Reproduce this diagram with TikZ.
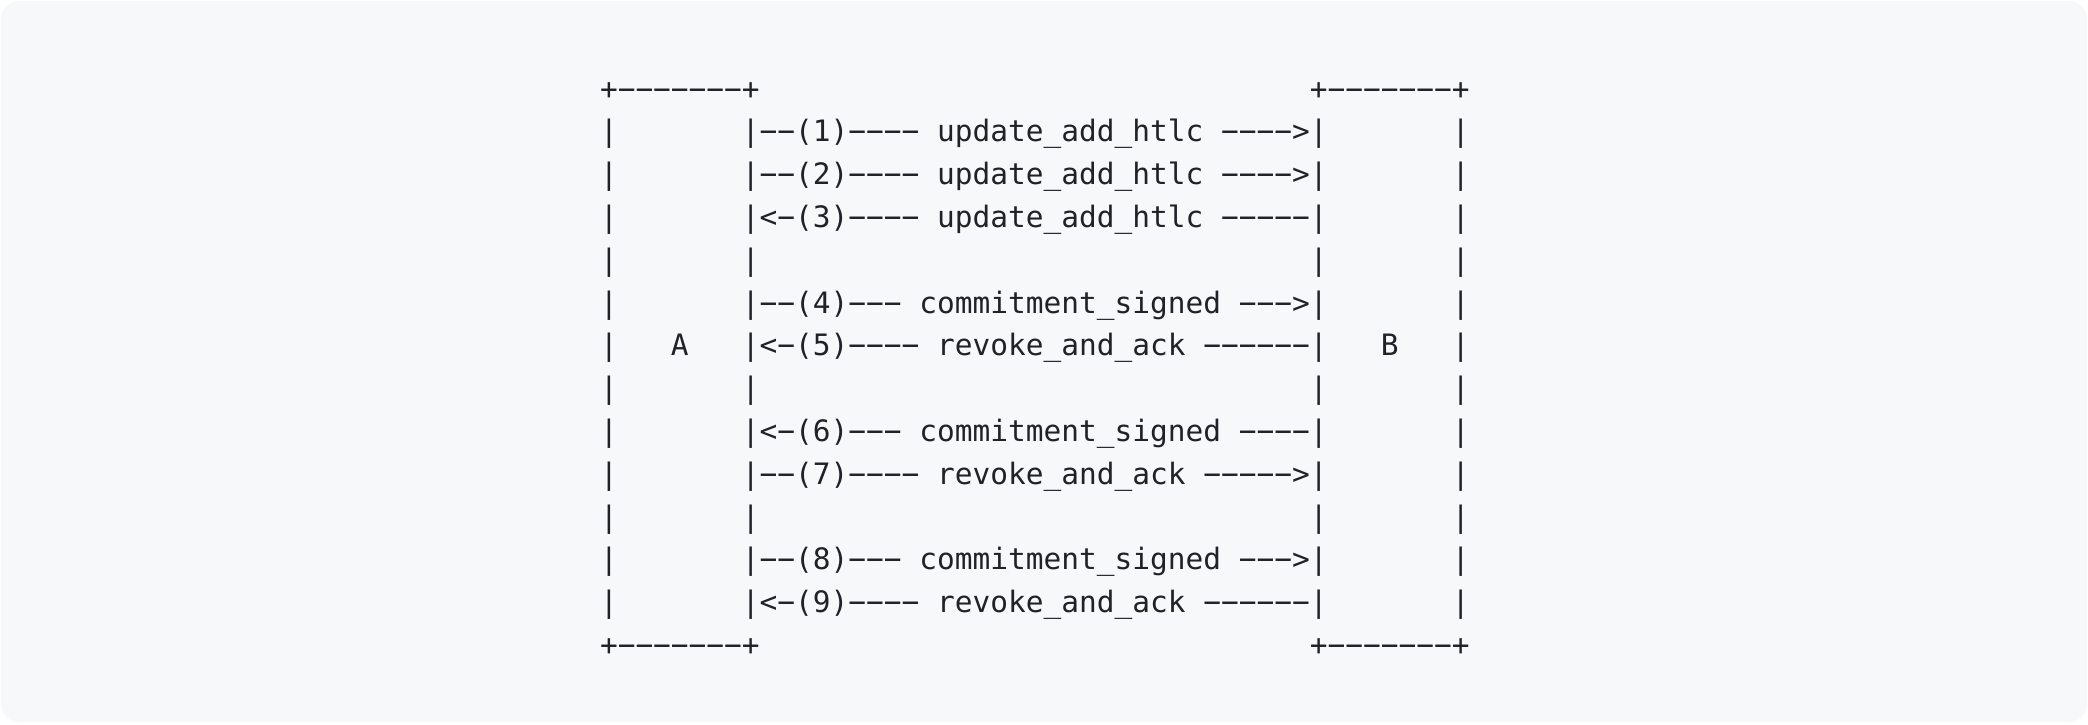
\documentclass[tikz,border=0pt]{standalone}
\usepackage{fontspec}
\setmonofont{DejaVu Sans Mono}
\definecolor{bg}{HTML}{F6F8FA}
\definecolor{ink}{HTML}{1F2328}
\begin{document}
\begin{tikzpicture}[x=1pt,y=-1pt,
  asc/.style={anchor=base west, inner sep=0pt, outer sep=0pt, text=ink,
    font=\ttfamily\fontsize{29.48pt}{42.8pt}\selectfont}]
\useasboundingbox (0,0) rectangle (2088,724);
\fill[white] (0,0) rectangle (2088,724);
\fill[bg, rounded corners=18pt] (1,1) rectangle (2087,722);
\node[asc] (l0)  at (600, 99.0) {+−−−−−−−+~~~~~~~~~~~~~~~~~~~~~~~~~~~~~~~+−−−−−−−+};
\node[asc] (l1)  at (600,141.8) {|~~~~~~~|−−(1)−−−−~update\_add\_htlc~−−−−>|~~~~~~~|};
\node[asc] (l2)  at (600,184.6) {|~~~~~~~|−−(2)−−−−~update\_add\_htlc~−−−−>|~~~~~~~|};
\node[asc] (l3)  at (600,227.4) {|~~~~~~~|<−(3)−−−−~update\_add\_htlc~−−−−−|~~~~~~~|};
\node[asc] (l4)  at (600,270.2) {|~~~~~~~|~~~~~~~~~~~~~~~~~~~~~~~~~~~~~~~|~~~~~~~|};
\node[asc] (l5)  at (600,313.0) {|~~~~~~~|−−(4)−−−~commitment\_signed~−−−>|~~~~~~~|};
\node[asc] (l6)  at (600,355.8) {|~~~A~~~|<−(5)−−−−~revoke\_and\_ack~−−−−−−|~~~B~~~|};
\node[asc] (l7)  at (600,398.6) {|~~~~~~~|~~~~~~~~~~~~~~~~~~~~~~~~~~~~~~~|~~~~~~~|};
\node[asc] (l8)  at (600,441.4) {|~~~~~~~|<−(6)−−−~commitment\_signed~−−−−|~~~~~~~|};
\node[asc] (l9)  at (600,484.2) {|~~~~~~~|−−(7)−−−−~revoke\_and\_ack~−−−−−>|~~~~~~~|};
\node[asc] (l10) at (600,527.0) {|~~~~~~~|~~~~~~~~~~~~~~~~~~~~~~~~~~~~~~~|~~~~~~~|};
\node[asc] (l11) at (600,569.8) {|~~~~~~~|−−(8)−−−~commitment\_signed~−−−>|~~~~~~~|};
\node[asc] (l12) at (600,612.6) {|~~~~~~~|<−(9)−−−−~revoke\_and\_ack~−−−−−−|~~~~~~~|};
\node[asc] (l13) at (600,655.4) {+−−−−−−−+~~~~~~~~~~~~~~~~~~~~~~~~~~~~~~~+−−−−−−−+};
\end{tikzpicture}
\end{document}
